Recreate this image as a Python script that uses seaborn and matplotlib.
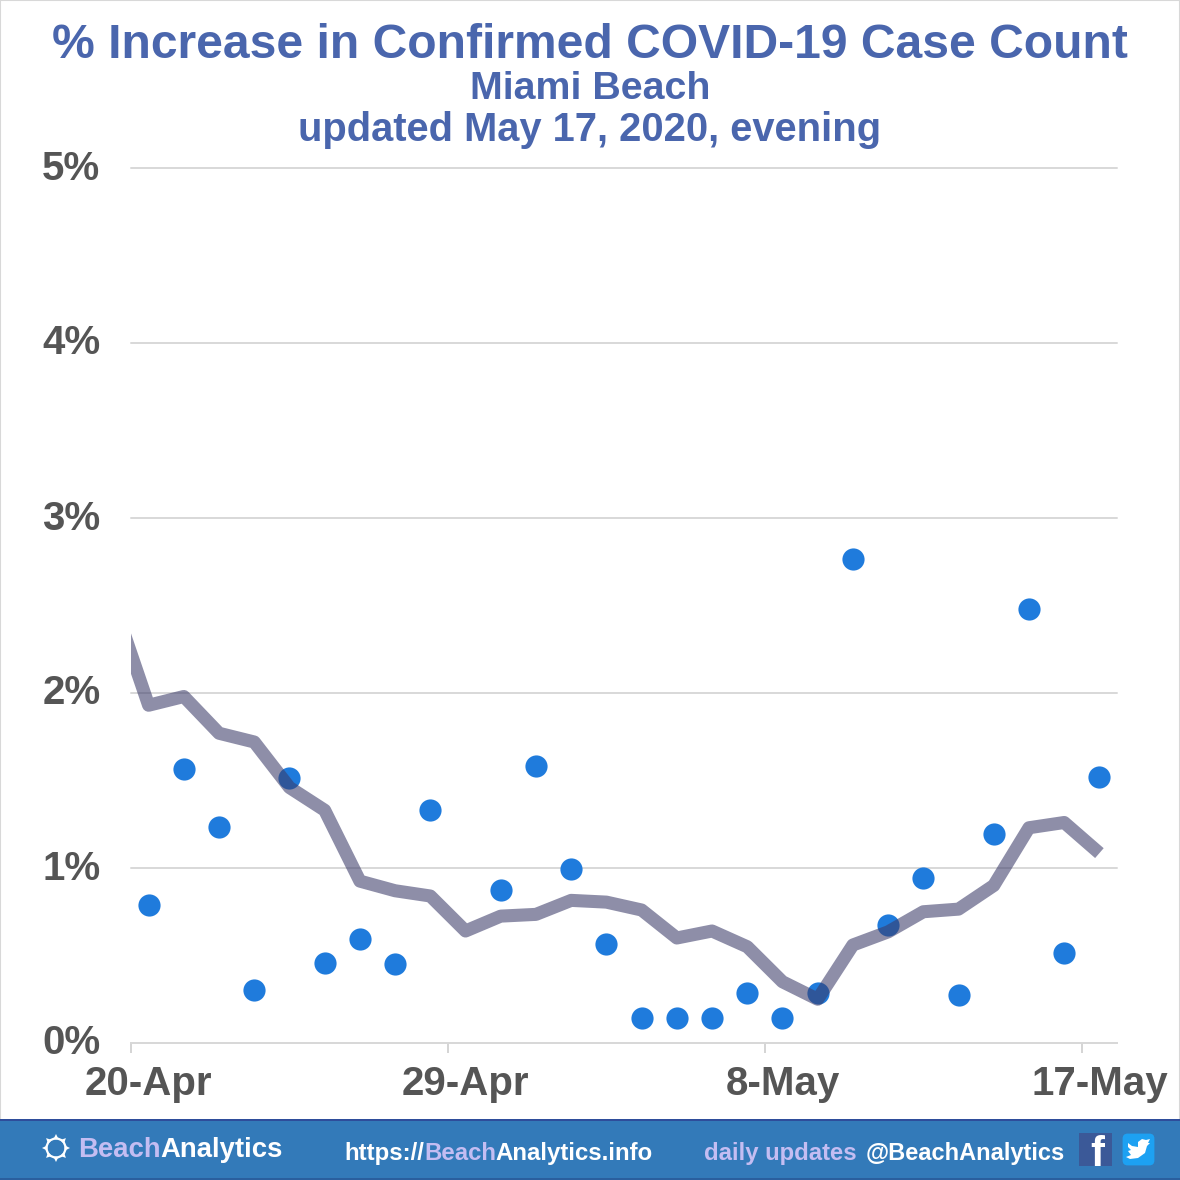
import numpy as np
import pandas as pd
import seaborn as sns
import matplotlib.pyplot as plt
from matplotlib.patches import Rectangle, Circle, FancyBboxPatch, Polygon
from matplotlib.transforms import ScaledTranslation

# one label per daily band, the trend line starts one day before the axis
tick_days = [0, 9, 18, 27]
tick_labels = ['20-Apr', '29-Apr', '8-May', '17-May']
y_labels = ['0%', '1%', '2%', '3%', '4%', '5%']

daily_days = [0, 1, 2, 3, 4, 5, 6, 7, 8, 10, 11, 12, 13, 14, 15, 16, 17, 18,
              19, 20, 21, 22, 23, 24, 25, 26, 27]
daily_pct = [0.79, 1.565, 1.235, 0.305, 1.515, 0.455, 0.595, 0.45, 1.33, 0.875, 1.585,
             0.995, 0.565, 0.145, 0.145, 0.145, 0.285, 0.145, 0.285, 2.765, 0.675, 0.945,
             0.275, 1.195, 2.48, 0.515, 1.52]

trend_days = [-1, 0, 1, 2, 3, 4, 5, 6, 7, 8, 9, 10, 11, 12, 13, 14, 15, 16, 17,
              18, 19, 20, 21, 22, 23, 24, 25, 26, 27]
trend_pct = [2.52, 1.93, 1.98, 1.77, 1.72, 1.46, 1.33, 0.925, 0.87, 0.84, 0.64,
             0.725, 0.735, 0.815, 0.805, 0.76, 0.60, 0.64, 0.55, 0.35, 0.25,
             0.56, 0.635, 0.75, 0.765, 0.90, 1.23, 1.26, 1.085]

SIZE = 1180
BLUE = '#4a66ad'
GREY = '#555555'
LAVENDER = '#c4bdf2'
FONT = 'Liberation Sans'

daily = pd.DataFrame({'day': daily_days, 'pct': daily_pct})
trend = pd.DataFrame({'day': trend_days, 'pct': trend_pct})

sns.set_style('white')
plt.rcParams['font.family'] = [FONT, 'DejaVu Sans']

fig = plt.figure(figsize=(SIZE / 100, SIZE / 100), dpi=100)
ax = fig.add_axes([131 / SIZE, 1 - 1043 / SIZE, 986 / SIZE, 875 / SIZE])


def fx(x):
    return x / SIZE


def fy(y):
    return 1 - y / SIZE


sns.scatterplot(data=daily, x='day', y='pct', ax=ax, s=255, color='#1f7bdc',
                linewidth=0, zorder=3)
sns.lineplot(data=trend, x='day', y='pct', ax=ax, color='#3c3c6a', alpha=0.58,
             linewidth=9.4, zorder=4, errorbar=None,
             solid_joinstyle='round', solid_capstyle='butt')

ax.set_xlim(-0.5, 27.5)
ax.set_ylim(0, 5)
ax.set_xlabel('')
ax.set_ylabel('')

# ticks sit on the band edges, labels in the band centres
ax.set_xticks([d - 0.5 for d in tick_days])
ax.set_xticklabels([])
ax.set_xticks(tick_days, minor=True)
ax.set_xticklabels(tick_labels, minor=True, fontsize=29, fontweight='bold', color=GREY)
ax.tick_params(axis='x', which='major', length=7, width=1.4, color='#d4d4d4', bottom=True)
ax.tick_params(axis='x', which='minor', length=0, pad=15.5)

ax.set_yticks(range(6))
ax.set_yticklabels(y_labels, fontsize=29, fontweight='bold', color=GREY)
ax.tick_params(axis='y', length=0, pad=22)
# labels sit a little above their gridlines
for label in ax.get_yticklabels():
    label.set_transform(label.get_transform() + ScaledTranslation(0, 0.035, fig.dpi_scale_trans))
ax.grid(axis='y', color='#d8d8d8', linewidth=1.4)
for line in ax.get_ygridlines():
    line.set_clip_on(False)
ax.set_axisbelow(True)
sns.despine(ax=ax, left=True)
ax.spines['bottom'].set_color('#d8d8d8')
ax.spines['bottom'].set_linewidth(1.4)

# titles
fig.text(fx(590), fy(46), '% Increase in Confirmed COVID-19 Case Count', ha='center',
         va='center', fontsize=34.6, fontweight='bold', color=BLUE)
fig.text(fx(590), fy(89), 'Miami Beach', ha='center', va='center', fontsize=28.4,
         fontweight='bold', color=BLUE)
fig.text(fx(590), fy(130), 'updated May 17, 2020, evening', ha='center', va='center',
         fontsize=28.7, fontweight='bold', color=BLUE)

# outer frame and footer band
fig.add_artist(Rectangle((0, 0), 1, 1, transform=fig.transFigure, fill=False,
                         edgecolor='#d8d8d8', linewidth=1.5))
fig.add_artist(Rectangle((0, fy(1178)), 1, 58 / SIZE, transform=fig.transFigure,
                         facecolor='#337ab9', edgecolor='none'))
fig.add_artist(Rectangle((0, fy(1121)), 1, 2 / SIZE, transform=fig.transFigure,
                         facecolor='#2e4d9b', edgecolor='none'))
fig.add_artist(Rectangle((0, 0), 1, 2 / SIZE, transform=fig.transFigure,
                         facecolor='#2a5f9e', edgecolor='none'))


def footer_text(x, y, parts, size):
    # draw coloured pieces one after the other
    renderer = fig.canvas.get_renderer()
    for words, colour in parts:
        t = fig.text(fx(x), fy(y), words, fontsize=size, fontweight='bold', color=colour,
                     ha='left', va='baseline')
        x += t.get_window_extent(renderer).width


footer_text(78, 1157, [('Beach', LAVENDER), ('Analytics', 'white')], 19.8)
footer_text(344, 1160, [('https://', 'white'), ('Beach', LAVENDER), ('Analytics.info', 'white')], 17.3)
footer_text(704, 1160, [('daily updates', LAVENDER)], 17.2)
footer_text(866, 1160, [('@BeachAnalytics', 'white')], 17.05)

# sun logo
sun_x, sun_y = 56, 1148
fig.add_artist(Circle((fx(sun_x), fy(sun_y)), 9.5 / SIZE, transform=fig.transFigure,
                      fill=False, edgecolor='white', linewidth=1.6))
for a in np.deg2rad(np.arange(0, 360, 45)):
    fig.add_artist(Polygon([(fx(sun_x + 14 * np.cos(a)), fy(sun_y + 14 * np.sin(a))),
                            (fx(sun_x + 9 * np.cos(a + 0.3)), fy(sun_y + 9 * np.sin(a + 0.3))),
                            (fx(sun_x + 9 * np.cos(a - 0.3)), fy(sun_y + 9 * np.sin(a - 0.3)))],
                           transform=fig.transFigure, facecolor='white', edgecolor='none'))

# social icons
fig.add_artist(Rectangle((fx(1079), fy(1166)), 33 / SIZE, 33 / SIZE, transform=fig.transFigure,
                         facecolor='#3b5998', edgecolor='none'))
# the f is cut by the lower edge of its square
fb = Rectangle((fx(1079), fy(1166)), 33 / SIZE, 33 / SIZE, transform=fig.transFigure)
f_mark = fig.text(fx(1090), fy(1166), 'f', fontsize=30, fontweight='bold', color='white',
                  ha='left', va='baseline', family=['Liberation Sans'])
f_mark.set_clip_path(fb)
fig.add_artist(FancyBboxPatch((fx(1124), fy(1164)), 29 / SIZE, 29 / SIZE, transform=fig.transFigure,
                              boxstyle='round,pad=0,rounding_size=0.003', linewidth=2,
                              facecolor='#1da1f2', edgecolor='#1da1f2'))
bird = [(1128, 1143), (1132, 1146), (1138, 1147), (1138, 1142), (1142, 1139), (1146, 1140),
        (1150, 1139), (1148, 1143), (1150, 1143), (1147, 1146), (1145, 1153), (1138, 1158),
        (1130, 1159), (1126, 1157), (1131, 1155), (1128, 1151), (1131, 1150), (1128, 1147)]
fig.add_artist(Polygon([(fx(a), fy(b)) for a, b in bird], transform=fig.transFigure,
                       facecolor='white', edgecolor='none'))

fig.savefig('out.png', dpi=100)
